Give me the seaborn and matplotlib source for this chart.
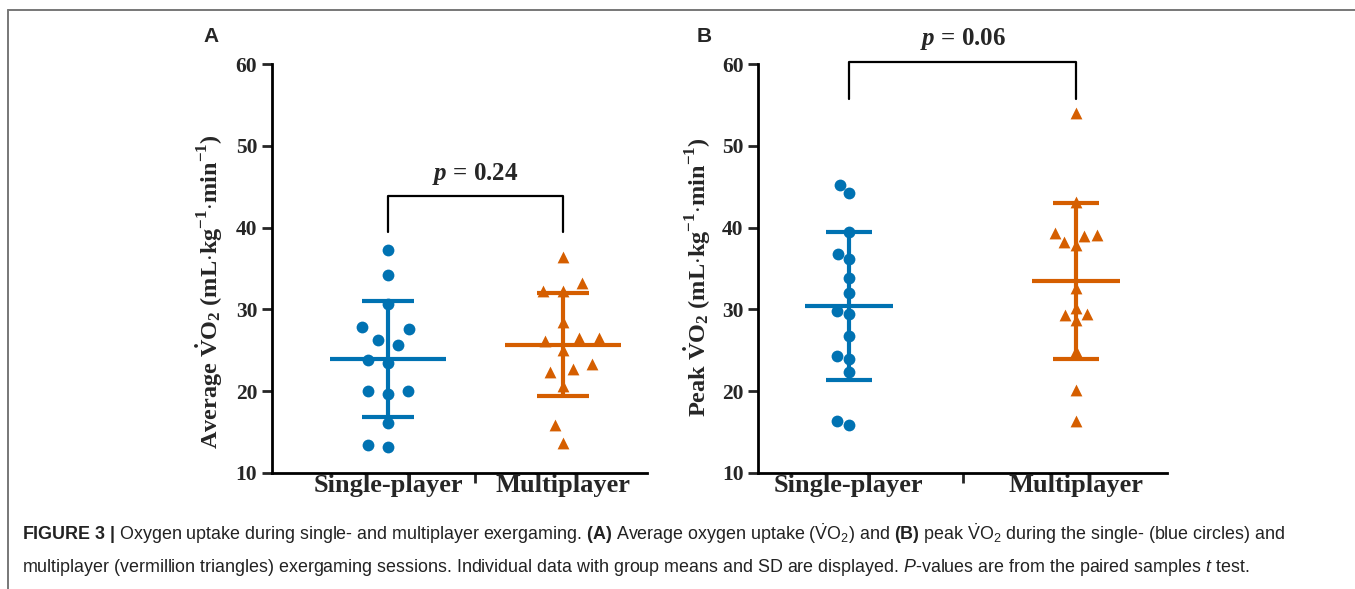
import matplotlib as mpl
import matplotlib.pyplot as plt
from matplotlib.collections import PathCollection
from matplotlib.lines import Line2D
import numpy as np
import pandas as pd
import seaborn as sns

groups = ['Single-player', 'Multiplayer']

# A: average VO2 (mL/kg/min)
avg_single = [37.3, 34.2, 30.7, 27.6, 27.8, 26.3, 25.6, 23.5, 23.8,
              20.0, 19.6, 20.0, 16.1, 13.2, 13.4]
avg_multi = [36.4, 32.3, 32.3, 33.2, 28.5, 26.5, 26.5, 26.1, 25.0,
             23.3, 22.7, 22.4, 20.6, 15.9, 13.7]
p_avg = '0.24'

# B: peak VO2
peak_single = [45.2, 44.2, 39.5, 36.8, 36.2, 33.9, 32.0, 29.4, 29.8,
               26.8, 24.3, 23.9, 22.3, 15.9, 16.3]
peak_multi = [54.0, 43.2, 39.1, 39.3, 39.0, 38.3, 37.9, 32.6, 30.2,
              29.4, 29.3, 28.7, 24.9, 20.2, 16.3]
p_peak = '0.06'

yticks = [10, 20, 30, 40, 50, 60]

colors = ['#0072B2', '#D55E00']
markers = ['o', '^']
MARKER = 8.5

sns.set_style('ticks')
plt.rcParams['font.family'] = ['Liberation Serif', 'DejaVu Serif']
plt.rcParams['mathtext.fontset'] = 'custom'
plt.rcParams['mathtext.rm'] = 'Liberation Serif:bold'
plt.rcParams['mathtext.bfit'] = 'Liberation Serif:italic:bold'
plt.rcParams['mathtext.sf'] = 'Liberation Sans'
plt.rcParams['mathtext.it'] = 'Liberation Sans:italic'
plt.rcParams['mathtext.bf'] = 'Liberation Sans:bold'


def draw_panel(ax, single, multi, ylabel, p, bracket, p_y, mean_hw, cap_hw, xlim,
               label_xy, swarm_size):
    df = pd.DataFrame({'group': np.repeat(groups, [len(single), len(multi)]),
                       'vo2': single + multi})
    for g, m, c in zip(groups, markers, colors):
        sns.swarmplot(data=df[df['group'] == g], x='group', y='vo2', order=groups,
                      marker=m, color=c, size=swarm_size, linewidth=0, ax=ax, zorder=2)

    # group mean and SD
    stats = df.groupby('group', sort=False)['vo2'].agg(['mean', 'std'])
    for i, (g, c) in enumerate(zip(groups, colors)):
        m, s = stats.loc[g, 'mean'], stats.loc[g, 'std']
        ax.hlines(m, i - mean_hw, i + mean_hw, color=c, lw=3, zorder=3)
        ax.vlines(i, m - s, m + s, color=c, lw=3, zorder=3)
        ax.hlines([m - s, m + s], i - cap_hw, i + cap_hw, color=c, lw=3, zorder=3)

    # significance bracket
    lo, hi = bracket
    ax.plot([0, 0, 1, 1], [lo, hi, hi, lo], color='black', lw=1.6, clip_on=False)
    ax.text(0.5, p_y, r'$\mathbfit{p}$ = ' + p, ha='center', va='center',
            fontsize=18, fontweight='bold', clip_on=False)

    ax.set_ylim(10, 60)
    ax.set_yticks(yticks)
    ax.set_xlim(*xlim)
    ax.set_xticks([0.5])
    ax.set_xticklabels([''])
    ax.set_xticks([0, 1], minor=True)
    ax.set_xticklabels(groups, minor=True)
    ax.tick_params(axis='x', which='major', length=7, width=2, direction='out')
    ax.tick_params(axis='x', which='minor', length=0, pad=1, labelsize=19)
    ax.tick_params(axis='y', length=7, width=2, pad=3.5, labelsize=15.5)
    for lab in ax.get_xticklabels(minor=True) + ax.get_yticklabels():
        lab.set_fontweight('bold')
    ax.set_xlabel('')
    ax.set_ylabel(ylabel, fontsize=17.5, fontweight='bold')
    ax.yaxis.set_label_coords(*label_xy)
    sns.despine(ax=ax)
    for sp in ['left', 'bottom']:
        ax.spines[sp].set_linewidth(2)
        ax.spines[sp].set_color('black')


def freeze_swarm(ax, size):
    # seaborn lays the swarm out on draw; lock those positions, then shrink the markers
    ax.figure.canvas.draw()
    for coll in ax.collections:
        if isinstance(coll, PathCollection):
            coll.__dict__.pop('draw', None)
            coll.set_sizes([size ** 2])


fig = plt.figure(figsize=(13.55, 5.89), dpi=100)
ax1 = fig.add_axes([0.2007, 0.197, 0.2768, 0.694])
ax2 = fig.add_axes([0.5594, 0.197, 0.3019, 0.694])

unit = r'(mL$\cdot$kg$^{\mathrm{-1}}$$\cdot$min$^{\mathrm{-1}}$)'
draw_panel(ax1, avg_single, avg_multi, r'Average $\mathrm{\dot{V}O_2}$ ' + unit, p_avg,
           (39.5, 43.9), 46.6, 0.33, 0.15, (-0.663, 1.48), (-0.125, 0.445), 14)
draw_panel(ax2, peak_single, peak_multi, r'Peak $\mathrm{\dot{V}O_2}$ ' + unit, p_peak,
           (55.8, 60.3), 63.1, 0.195, 0.10, (-0.40, 1.40), (-0.110, 0.48), MARKER)
freeze_swarm(ax1, MARKER)

for x, lab in [(211, 'A'), (704, 'B')]:
    fig.text(x / 1355, 1 - 37 / 589, lab, family='Liberation Sans', fontweight='bold',
             fontsize=15, ha='center', va='center')

# open frame round the figure
fig.add_artist(Line2D([8 / 1355, 1], [1 - 10 / 589] * 2, color='#777777', lw=1.4))
fig.add_artist(Line2D([8 / 1355] * 2, [0, 1 - 10 / 589], color='#777777', lw=1.4))

cap1 = (r'$\mathbf{FIGURE\ 3\ |}$ Oxygen uptake during single- and multiplayer exergaming. '
        r'$\mathbf{(A)}$ Average oxygen uptake ($\mathsf{\dot{V}O_2}$) and $\mathbf{(B)}$ peak '
        r'$\mathsf{\dot{V}O_2}$ during the single- (blue circles) and')
cap2 = (r'multiplayer (vermillion triangles) exergaming sessions. Individual data with group '
        r'means and SD are displayed. $\mathit{P}$-values are from the paired samples $\mathit{t}$ test.')
for y, s in [(534, cap1), (567, cap2)]:
    fig.text(22 / 1355, 1 - y / 589, s, family='Liberation Sans', fontsize=12.9,
             color='#222222', ha='left', va='center')

fig.savefig('out.png', dpi=100)
